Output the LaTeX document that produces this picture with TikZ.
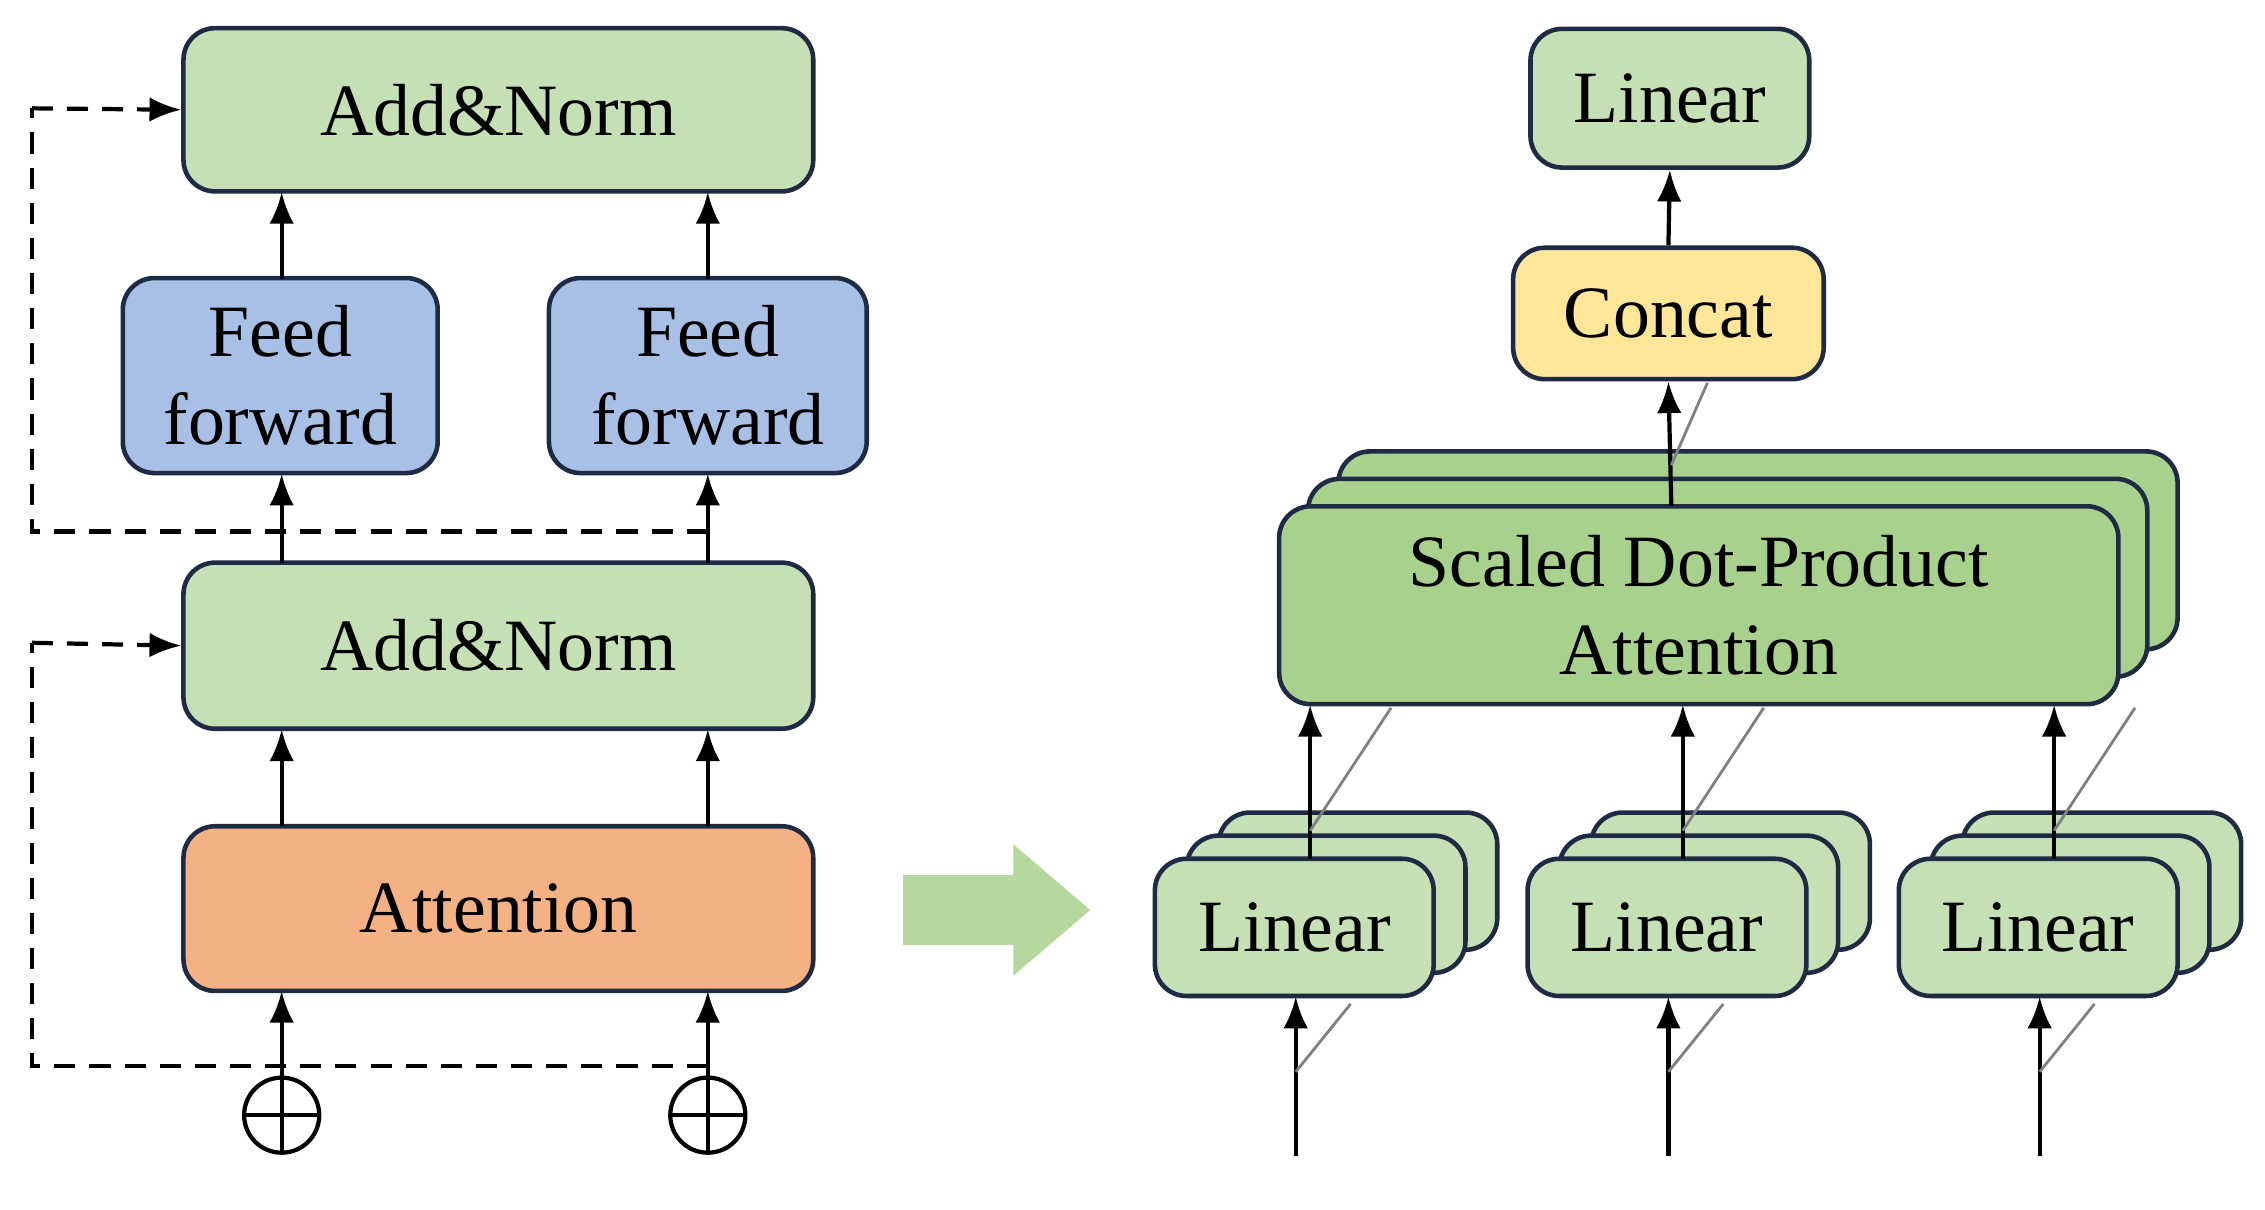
\documentclass[tikz,border=0pt]{standalone}
\usepackage{fontspec}
\setmainfont{Liberation Serif}
\usetikzlibrary{arrows.meta}
\definecolor{lg}{HTML}{C5E0B4}
\definecolor{dg}{HTML}{A9D18E}
\definecolor{bl}{HTML}{A9C0E6}
\definecolor{orr}{HTML}{F4B183}
\definecolor{yl}{HTML}{FFE699}
\definecolor{bd}{HTML}{1F2A44}
\begin{document}
\begin{tikzpicture}[x=0.01445cm,y=-0.01445cm,
 box/.style={draw=bd,line width=1.3pt,rounded corners=9pt,align=center,inner sep=0pt,font=\fontsize{21}{25}\selectfont},
 ar/.style={-{Latex[length=9pt,width=7pt]},line width=1.2pt},
 da/.style={dashed,line width=1.2pt,dash pattern=on 6pt off 4pt},
 sl/.style={gray,line width=0.8pt}]
\useasboundingbox (0,0) rectangle (1568,837);
% left
\node[box,fill=lg,minimum width=436*0.01445cm,minimum height=113*0.01445cm] (an2) at (345,76) {Add\&Norm};
\node[box,fill=bl,minimum width=218*0.01445cm,minimum height=135*0.01445cm] (ff1) at (194,260) {Feed\\forward};
\node[box,fill=bl,minimum width=220*0.01445cm,minimum height=135*0.01445cm] (ff2) at (490,260) {Feed\\forward};
\node[box,fill=lg,minimum width=436*0.01445cm,minimum height=115*0.01445cm] (an1) at (345,447) {Add\&Norm};
\node[box,fill=orr,minimum width=436*0.01445cm,minimum height=114*0.01445cm] (att) at (345,629) {Attention};
\node[circle,draw,line width=1.2pt,minimum size=52*0.01445cm,inner sep=0pt] (c1) at (195,772) {};
\node[circle,draw,line width=1.2pt,minimum size=52*0.01445cm,inner sep=0pt] (c2) at (490,772) {};
\foreach \c in {c1,c2}{\draw[line width=1.2pt] (\c.north)--(\c.south) (\c.west)--(\c.east);}
\draw[ar] (c1.north) -- (195,686);
\draw[ar] (c2.north) -- (490,686);
\draw[ar] (195,572) -- (195,505);
\draw[ar] (490,572) -- (490,505);
\draw[ar] (195,390) -- (195,328);
\draw[ar] (490,390) -- (490,328);
\draw[ar] (195,193) -- (195,133);
\draw[ar] (490,193) -- (490,133);
\coordinate (d1) at (490,738); \coordinate (d2) at (490,368);
\draw[da] (d1) -- (22,738) -- (22,445);
\draw[da,-{Latex[length=9pt,width=7pt]}] (22,445) -- (an1.west);
\draw[da] (d2) -- (22,368) -- (22,75);
\draw[da,-{Latex[length=9pt,width=7pt]}] (22,75) -- (an2.west);
% big arrow
\draw[-{Triangle[length=22pt,width=36pt]},line width=20pt,color=dg!85!white] (625,630) -- (755,630);
% right
\node[box,fill=lg,minimum width=193*0.01445cm,minimum height=96*0.01445cm] (lt) at (1156,68) {Linear};
\node[box,fill=yl,minimum width=215*0.01445cm,minimum height=91*0.01445cm] (cc) at (1155,217) {Concat};
\node[box,fill=dg,minimum width=581*0.01445cm,minimum height=137*0.01445cm] (s3) at (1217,381) {};
\node[box,fill=dg,minimum width=581*0.01445cm,minimum height=137*0.01445cm] (s2) at (1196,400) {};
\node[box,fill=dg,minimum width=581*0.01445cm,minimum height=137*0.01445cm] (s1) at (1176,419) {Scaled Dot-Product\\Attention};
\foreach \i/\dx in {1/0,2/258,3/515}{
 \node[box,fill=lg,minimum width=193*0.01445cm,minimum height=95*0.01445cm] (l\i c) at (940+\dx,610) {};
 \node[box,fill=lg,minimum width=193*0.01445cm,minimum height=95*0.01445cm] (l\i b) at (918+\dx,626) {};
 \node[box,fill=lg,minimum width=193*0.01445cm,minimum height=95*0.01445cm] (l\i) at (896+\dx,642) {Linear};
 \coordinate (in\i) at (897+\dx,800);
 \draw[ar] (in\i) -- (897+\dx,690);
 \draw[sl] (897+\dx,742) -- (935+\dx,695);
 \draw[ar] (907+\dx,595) -- (907+\dx,488);
 \draw[sl] (907+\dx,575) -- (963+\dx,490);
}
\draw[ar] (1157,350) -- (cc.south);
\draw[sl] (1157,322) -- (1182,265);
\draw[ar] (cc.north) -- (lt.south);
\end{tikzpicture}
\end{document}
